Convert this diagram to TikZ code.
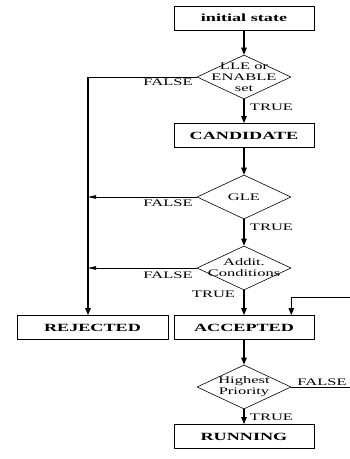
\documentclass[tikz,border=0pt]{standalone}
\usepackage{fontspec}
\setmainfont[FakeStretch=1.65]{Liberation Serif}
\usetikzlibrary{shapes.geometric,arrows.meta}
\begin{document}
\begin{tikzpicture}
[x=1pt,y=-1pt,
  boxdecorate/.style={shape=rectangle,draw,line width=0.8pt,minimum width=140pt,
    minimum height=24pt,inner sep=0pt,font=\fontsize{11}{11}\selectfont\bfseries},%
  diadecorate/.style={shape=diamond,draw,line width=0.6pt,minimum width=94pt,
    minimum height=44pt,inner sep=0pt},%
  textdecorate/.style={align=center,inner sep=0pt,font=\fontsize{10}{11}\selectfont},%
  labeldecorate/.style={inner sep=0pt,font=\fontsize{10}{10}\selectfont},%
  flowdecorate/.style={-{Triangle[length=7pt,width=5.5pt]},line width=1.2pt},%
  falsedecorate/.style={-{Triangle[length=8pt,width=3.5pt]},line width=0.6pt},%
  linedecorate/.style={-,line width=0.6pt}]
\useasboundingbox (0,0) rectangle (350,459);
%% boxes
\foreach \nodename/\x/\y/\txt in {init/244/18/initial state, candidate/244/135.5/CANDIDATE,
  accepted/244/327.5/ACCEPTED, running/244/436.5/RUNNING} {
  \node (\nodename) at (\x,\y) [boxdecorate] {\txt};
}
\node (rejected) at (92.5,327.5) [boxdecorate,minimum width=151pt] {REJECTED};
%% decisions
\foreach \nodename/\x/\y/\txt in {lle/244/77/{LLE or\\ENABLE\\set}, gle/244/197/GLE,
  addit/244/268/{Addit.\\Conditions}, priority/244/387/{Highest\\Priority}} {
  \node (\nodename) at (\x,\y) [diadecorate] {};
  \node (\nodename text) at (\nodename) [textdecorate] {\txt};
}
%% branch labels
\foreach \labname/\x/\y/\txt in {llefalse/168/82/FALSE, lletrue/271.5/107/TRUE,
  glefalse/168/203/FALSE, gletrue/271.5/227/TRUE, additfalse/168/275/FALSE,
  addittrue/213.5/294/TRUE, priorityfalse/322/382/FALSE, prioritytrue/271.5/417/TRUE} {
  \node (\labname) at (\x,\y) [labeldecorate] {\txt};
}
%% flow
\path
\foreach \startnode/\endnode in {init/lle, lle/candidate, candidate/gle, gle/addit,
  addit/accepted, accepted/priority, priority/running} {
  (\startnode.south) edge[flowdecorate] (\endnode.north)
};
%% rejection trunk
\coordinate (trunk) at (88,77);
\draw[linedecorate] (lle.west) -- (trunk);
\draw[flowdecorate] (trunk) -- (trunk |- rejected.north);
\draw[falsedecorate] (gle.west) -- (gle.west -| trunk);
\draw[falsedecorate] (addit.west) -- (addit.west -| trunk);
%% loop back
\coordinate (loopin) at (350,297);
\coordinate (loopout) at (350,387);
\draw[linedecorate] (loopin) -- (addit.east |- loopin);
\draw[flowdecorate] (addit.east |- loopin) -- (addit.east |- accepted.north);
\draw[linedecorate] (priority.east) -- (loopout);
\end{tikzpicture}
\end{document}
